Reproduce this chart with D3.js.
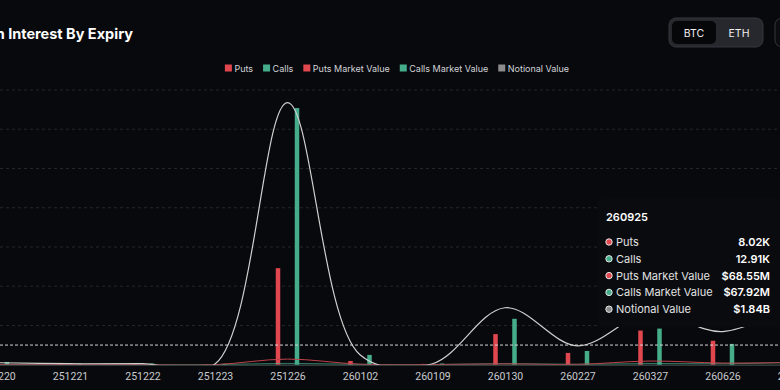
<html>
<head>
    <script src="https://d3js.org/d3.v7.min.js"></script>
    <style>
        body { margin: 0; background: #08090d; overflow: hidden; }
        svg { display: block; }
    </style>
</head>

<body>
    <svg id="chart"></svg>

    <script>
        var Width = 780, Height = 390;

        // expiries shown on the category axis
        var expiries = ["251220", "251221", "251222", "251223", "251226", "260102",
                        "260109", "260130", "260227", "260327", "260626", "260925"];
        // open interest, thousands of contracts
        var puts  = [0.2, 0.2, 0.2, 0.1, 24.6, 0.95, 0.2, 7.8, 3.0, 8.7, 6.1, 8.02];
        var calls = [0.7, 0.3, 0.3, 0.2, 65.4, 2.5, 0.3, 11.7, 3.5, 9.2, 5.3, 12.91];
        // market values, millions USD
        var putsMV  = [2, 1, 1, 2, 170, 15, 5, 25, 10, 110, 50, 68.55];
        var callsMV = [8, 3, 3, 3, 40, 10, 4, 30, 12, 35, 30, 67.92];
        // notional value, billions USD
        var notional = [0.06, 0.03, 0.03, 0.02, 7.92, 0.30, 0.03, 1.72, 0.57, 1.58, 1.00, 1.84];

        var oiTicks = [0, 10, 20, 30, 40, 50, 60, 70];
        var legendItems = ["Puts", "Calls", "Puts Market Value", "Calls Market Value", "Notional Value"];
        var hovered = "260925";

        var Red = "#e0474f", Green = "#46ad8b", Gray = "#8c8c8c";
        var legendColors = [Red, Green, Red, Green, Gray];

        var svg = d3.select("#chart")
            .attr("width", Width)
            .attr("height", Height);

        svg.append("rect")
            .attr("width", Width).attr("height", Height)
            .attr("fill", "#08090d");

        var plotTop = 90, plotBottom = 364.7;

        svg.append("clipPath")
            .attr("id", "plot")
            .append("rect")
                .attr("x", -20).attr("y", plotTop - 10)
                .attr("width", Width + 40).attr("height", plotBottom - plotTop + 10);

        var x = d3.scalePoint()
            .domain(expiries)
            .range([-2.5, 795]);

        var inner = d3.scaleBand()
            .domain(["puts", "calls"])
            .range([-11.75, 11.75])
            .paddingInner(0.763);

        var y = d3.scaleLinear()
            .domain([0, 70])
            .range([plotBottom, plotTop]);

        // right (value) axis shared by notional and market value lines, in billions
        var yV = d3.scaleLinear()
            .domain([0, 8.3])
            .range([plotBottom, plotTop]);

        // grid
        svg.append("g")
            .selectAll("line")
            .data(oiTicks.slice(1))
            .enter()
            .append("line")
                .attr("x1", 0).attr("x2", Width)
                .attr("y1", function(d){ return y(d) })
                .attr("y2", function(d){ return y(d) })
                .attr("stroke", "#24262c")
                .attr("stroke-dasharray", "3,3");

        // x axis
        var xAxis = svg.append("g")
            .attr("transform", "translate(0," + plotBottom + ")")
            .call(d3.axisBottom(x).tickSize(0).tickPadding(8));
        xAxis.select(".domain").attr("stroke", "#3d4a48").attr("stroke-width", 1.2);
        xAxis.selectAll("text")
            .attr("fill", "#c9cbcf")
            .style("font-family", "'Liberation Sans Narrow', Roboto, sans-serif")
            .style("font-size", "10.5px");

        var rows = expiries.map(function(e, i){
            return { expiry: e, puts: puts[i], calls: calls[i] };
        });

        // bars
        var bars = svg.append("g")
            .selectAll("g")
            .data(rows)
            .enter()
            .append("g")
                .attr("transform", function(d){ return "translate(" + x(d.expiry) + ",0)" });

        bars.selectAll("rect")
            .data(function(d){ return [{k: "puts", v: d.puts}, {k: "calls", v: d.calls}] })
            .enter()
            .append("rect")
                .attr("x", function(d){ return inner(d.k) })
                .attr("width", inner.bandwidth())
                .attr("y", function(d){ return y(d.v) })
                .attr("height", function(d){ return plotBottom - y(d.v) })
                .attr("fill", function(d){ return d.k == "puts" ? Red : Green });

        // lines (clipped to the grid, like the original)
        var curve = d3.curveCatmullRom.alpha(0.5);
        function lineOf(values, scale)
        {
            return d3.line()
                .x(function(d, i){ return x(expiries[i]) })
                .y(function(d){ return yV(d * scale) })
                .curve(curve)(values);
        }

        var lines = svg.append("g").attr("clip-path", "url(#plot)");

        lines.append("path")
            .attr("d", lineOf(callsMV, 0.001))
            .attr("fill", "none")
            .attr("stroke", Green)
            .attr("stroke-opacity", 0.7)
            .attr("stroke-width", 1);

        lines.append("path")
            .attr("d", lineOf(putsMV, 0.001))
            .attr("fill", "none")
            .attr("stroke", "#c0444b")
            .attr("stroke-width", 1);

        lines.append("path")
            .attr("d", lineOf(notional, 1))
            .attr("fill", "none")
            .attr("stroke", "#cfcfcf")
            .attr("stroke-width", 1.2);

        // average mark line of puts
        var avgPuts = d3.mean(puts);
        svg.append("line")
            .attr("x1", 0).attr("x2", Width)
            .attr("y1", y(avgPuts)).attr("y2", y(avgPuts))
            .attr("stroke", "#d6d6d6")
            .attr("stroke-dasharray", "3,2");

        // title
        svg.append("text")
            .attr("x", 133).attr("y", 38.5)
            .attr("text-anchor", "end")
            .attr("fill", "#ffffff")
            .style("font-family", "Inter, sans-serif")
            .style("font-weight", 700)
            .style("font-size", "14.5px")
            .text("Open Interest By Expiry");

        // BTC / ETH switch
        svg.append("rect")
            .attr("x", 669).attr("y", 18).attr("width", 94).attr("height", 29).attr("rx", 7)
            .attr("fill", "#26282d").attr("stroke", "#34363c");
        svg.append("rect")
            .attr("x", 672).attr("y", 21).attr("width", 44).attr("height", 23).attr("rx", 5)
            .attr("fill", "#060709");
        svg.append("rect")
            .attr("x", 775).attr("y", 18).attr("width", 30).attr("height", 29).attr("rx", 7)
            .attr("fill", "#0c0d11").attr("stroke", "#34363c");
        svg.selectAll("text.sw")
            .data(["BTC", "ETH"])
            .enter()
            .append("text")
                .attr("class", "sw")
                .attr("x", function(d, i){ return i == 0 ? 694 : 739 })
                .attr("y", 36.5)
                .attr("text-anchor", "middle")
                .attr("fill", "#eeeeee")
                .style("font-family", "Inter, sans-serif")
                .style("font-size", "10.5px")
                .text(function(d){ return d });

        // legend
        var legend = svg.append("g");
        var lx = 0;
        legendItems.forEach(function(name, i)
        {
            var g = legend.append("g").attr("transform", "translate(" + lx + ",0)");
            g.append("rect")
                .attr("x", 0).attr("y", 64.5).attr("width", 7).attr("height", 7)
                .attr("fill", legendColors[i]);
            var t = g.append("text")
                .attr("x", 9.5).attr("y", 71.5)
                .attr("fill", "#d2d4d8")
                .style("font-family", "Inter, sans-serif")
                .style("font-size", "9px")
                .text(name);
            lx += 9.5 + t.node().getComputedTextLength() + 10;
        });
        var legendWidth = lx - 10;
        legend.attr("transform", "translate(" + (397 - legendWidth / 2) + ",0)");

        // tooltip for the hovered expiry
        var k = expiries.indexOf(hovered);
        var tipRows = [
            {name: "Puts", color: Red, value: d3.format(".2f")(puts[k]) + "K"},
            {name: "Calls", color: Green, value: d3.format(".2f")(calls[k]) + "K"},
            {name: "Puts Market Value", color: Red, value: "$" + d3.format(".2f")(putsMV[k]) + "M"},
            {name: "Calls Market Value", color: Green, value: "$" + d3.format(".2f")(callsMV[k]) + "M"},
            {name: "Notional Value", color: Gray, value: "$" + d3.format(".2f")(notional[k]) + "B"}
        ];

        var tip = svg.append("g");
        tip.append("rect")
            .attr("x", 598).attr("y", 199).attr("width", 200).attr("height", 128).attr("rx", 4)
            .attr("fill", "#0a0b0f");
        tip.append("text")
            .attr("x", 606).attr("y", 221)
            .attr("fill", "#ffffff")
            .style("font-family", "Inter, sans-serif")
            .style("font-weight", 600)
            .style("font-size", "11px")
            .text(hovered);

        var tr = tip.selectAll("g.row")
            .data(tipRows)
            .enter()
            .append("g")
                .attr("class", "row")
                .attr("transform", function(d, i){ return "translate(0," + (242 + i * 16.8) + ")" });
        tr.append("circle")
            .attr("cx", 609).attr("cy", 0).attr("r", 3.2)
            .attr("fill", function(d){ return d.color })
            .attr("stroke", "#e6e6e6")
            .attr("stroke-width", 1);
        tr.append("text")
            .attr("x", 616).attr("y", 4)
            .attr("fill", "#e2e2e2")
            .style("font-family", "Inter, sans-serif")
            .style("font-size", "11px")
            .text(function(d){ return d.name });
        tr.append("text")
            .attr("x", 770).attr("y", 4)
            .attr("text-anchor", "end")
            .attr("fill", "#ffffff")
            .style("font-family", "Inter, sans-serif")
            .style("font-weight", 600)
            .style("font-size", "11px")
            .text(function(d){ return d.value });
    </script>
</body>
</html>
